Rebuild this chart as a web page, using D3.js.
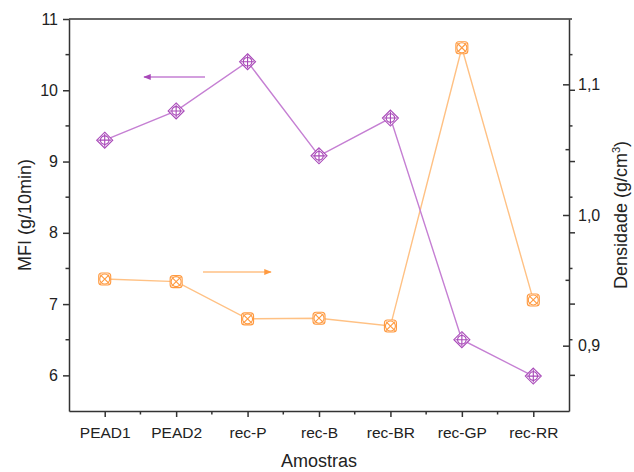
<!DOCTYPE html>
<html>
  <head>
    <meta charset="utf-8">
    <style>
      body { margin: 0; background: #fff; }
      text { font-family: "Liberation Sans", Arial, sans-serif; fill: #222; }
    </style>
  </head>
  <body>
    <script src="https://d3js.org/d3.v7.min.js"></script>
    <script>
    // data
    var samples = ["PEAD1", "PEAD2", "rec-P", "rec-B", "rec-BR", "rec-GP", "rec-RR"];
    var mfi = [9.30, 9.71, 10.40, 9.08, 9.61, 6.50, 5.99];
    var density = [0.951, 0.949, 0.9205, 0.921, 0.915, 1.128, 0.935];
    var mfiTicks = [6, 7, 8, 9, 10, 11];
    var densTicks = [0.9, 1.0, 1.1];

    var width = 634, height = 472;
    // plot box (note: "top" is reserved on window, so use other names)
    var plotL = 69, plotR = 569, plotT = 19, plotB = 411;

    var svg = d3.select("body").append("svg")
        .attr("width", width)
        .attr("height", height);

    var x = d3.scalePoint().domain(samples).range([plotL, plotR]).padding(0.5);
    var yL = d3.scaleLinear().domain([5.5, 11]).range([plotB, plotT]);
    var yR = d3.scaleLinear().domain([0.85, 1.15]).range([plotB, plotT]);

    var axisColor = "#333";

    // frame top
    svg.append("line").attr("x1", plotL).attr("x2", plotR + 3).attr("y1", plotT).attr("y2", plotT)
        .attr("stroke", axisColor).attr("stroke-width", 1.5);

    // left axis
    var gl = svg.append("g").attr("transform", "translate(" + plotL + ",0)");
    gl.call(d3.axisLeft(yL).tickValues(mfiTicks).tickFormat(d3.format("d"))
        .tickSize(6).tickPadding(5).tickSizeOuter(0));
    gl.selectAll(".tick text").style("font-size", "16px");
    gl.selectAll(".minor").data(d3.range(6.5, 11, 1)).enter().append("line")
        .attr("x1", 0).attr("x2", -3.5).attr("y1", yL).attr("y2", yL);
    gl.selectAll("line").attr("stroke", axisColor).attr("stroke-width", 1.5);

    // right axis: mirrored MFI ticks outward, density ticks inward
    var gr = svg.append("g").attr("transform", "translate(" + plotR + ",0)");
    gr.call(d3.axisLeft(yR).tickValues(densTicks).tickSize(6).tickSizeOuter(0).tickFormat(function(d) {
      return d3.format(".1f")(d).replace(".", ",");
    }));
    gr.selectAll(".tick text").attr("text-anchor", "start").attr("x", 9).style("font-size", "16px");
    gr.selectAll(".dminor").data([0.95, 1.05]).enter().append("line")
        .attr("x1", 0).attr("x2", -3.5).attr("y1", yR).attr("y2", yR);
    gr.selectAll(".mmajor").data(mfiTicks.slice(0, 5)).enter().append("line")
        .attr("x1", 0).attr("x2", 6).attr("y1", yL).attr("y2", yL);
    gr.selectAll(".mminor").data(d3.range(6.5, 11, 1)).enter().append("line")
        .attr("x1", 0).attr("x2", 3.5).attr("y1", yL).attr("y2", yL);
    gr.selectAll("line").attr("stroke", axisColor).attr("stroke-width", 1.5);

    // bottom axis
    var gb = svg.append("g").attr("transform", "translate(0," + plotB + ")");
    gb.call(d3.axisBottom(x).tickSize(6).tickPadding(10).tickSizeOuter(0));
    gb.selectAll(".tick text").style("font-size", "15.5px");
    gb.selectAll(".xminor").data(samples.slice(1)).enter().append("line")
        .attr("x1", function(d) { return x(d) - x.step() / 2; })
        .attr("x2", function(d) { return x(d) - x.step() / 2; })
        .attr("y1", 0).attr("y2", 3.5);
    gb.selectAll("line").attr("stroke", axisColor).attr("stroke-width", 1.5);
    svg.selectAll(".domain").attr("stroke", axisColor).attr("stroke-width", 1.5);

    // axis titles
    svg.append("text").attr("x", 319).attr("y", 467).attr("text-anchor", "middle")
        .style("font-size", "18px").text("Amostras");
    svg.append("text").attr("transform", "translate(31,215) rotate(-90)")
        .attr("text-anchor", "middle").style("font-size", "18px").text("MFI (g/10min)");
    var dt = svg.append("text").attr("transform", "translate(627,215) rotate(-90)")
        .attr("text-anchor", "middle").style("font-size", "18px");
    dt.append("tspan").text("Densidade (g/cm");
    dt.append("tspan").attr("dy", -7).style("font-size", "11px").text("3");
    dt.append("tspan").attr("dy", 7).text(")");

    // series
    var purple = "#a848b8", purpleLine = "#c57fd3";
    var orange = "#ff9a40", orangeLine = "#ffc184";

    var mfiPts = samples.map(function(s, i) { return [x(s), yL(mfi[i])]; });
    var densPts = samples.map(function(s, i) { return [x(s), yR(density[i])]; });

    svg.append("path").attr("d", d3.line()(densPts)).attr("fill", "none")
        .attr("stroke", orangeLine).attr("stroke-width", 1.4);
    svg.append("path").attr("d", d3.line()(mfiPts)).attr("fill", "none")
        .attr("stroke", purpleLine).attr("stroke-width", 1.4);

    // purple: diamond with circle and plus
    var pm = svg.selectAll(".pm").data(mfiPts).enter().append("g")
        .attr("transform", function(d) { return "translate(" + d[0] + "," + d[1] + ")"; })
        .attr("fill", "#fff").attr("stroke", purple).attr("stroke-width", 1.1);
    pm.append("path").attr("d", "M0,-8L8,0L0,8L-8,0Z");
    pm.append("circle").attr("r", 4.3);
    pm.append("path").attr("d", "M0,-6.5V6.5M-6.5,0H6.5").attr("fill", "none");

    // orange: square with circle and cross
    var om = svg.selectAll(".om").data(densPts).enter().append("g")
        .attr("transform", function(d) { return "translate(" + d[0] + "," + d[1] + ")"; })
        .attr("fill", "#fff").attr("stroke", orange).attr("stroke-width", 1.1);
    om.append("rect").attr("x", -6).attr("y", -6).attr("width", 12).attr("height", 12).attr("rx", 3);
    om.append("circle").attr("r", 5);
    om.append("path").attr("d", "M-4.5,-4.5L4.5,4.5M-4.5,4.5L4.5,-4.5").attr("fill", "none");

    // arrows showing which axis each series uses
    var defs = svg.append("defs");
    [["ap", purple], ["ao", orange]].forEach(function(a) {
      defs.append("marker").attr("id", a[0]).attr("viewBox", "0 0 10 10")
          .attr("refX", 9).attr("refY", 5).attr("markerWidth", 5).attr("markerHeight", 5)
          .attr("orient", "auto")
        .append("path").attr("d", "M0,1L10,5L0,9Z").attr("fill", a[1]);
    });
    svg.append("line").attr("x1", 205).attr("x2", 144).attr("y1", 77).attr("y2", 77)
        .attr("stroke", purpleLine).attr("stroke-width", 1.5).attr("marker-end", "url(#ap)");
    svg.append("line").attr("x1", 203).attr("x2", 271).attr("y1", 272).attr("y2", 272)
        .attr("stroke", orangeLine).attr("stroke-width", 1.5).attr("marker-end", "url(#ao)");
    </script>
  </body>
</html>
